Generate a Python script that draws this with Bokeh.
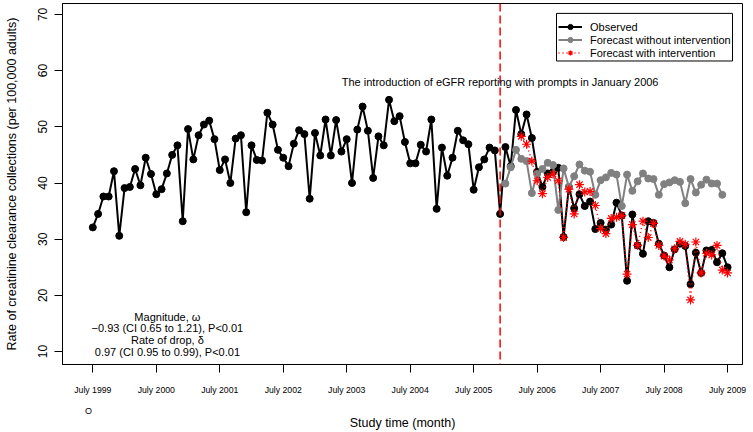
from bokeh.plotting import figure
from bokeh.models import (FixedTicker, Label, Span, Legend, LegendItem, LinearAxis,
                          BoxAnnotation)
from bokeh.embed import file_html
from bokeh.resources import INLINE

# ---------------- data ----------------
# month index 0 = July 1999
obs_months = list(range(0, 121))
observed = [32.1, 34.5, 37.6, 37.6, 42.1, 30.6, 39.1, 39.3, 42.5, 39.6,
            44.5, 41.6, 38.0, 38.9, 41.7, 45.0, 46.7, 33.2, 49.6, 44.2,
            48.5, 50.4, 51.1, 47.8, 42.3, 44.2, 40.0, 47.9, 48.5, 34.8,
            46.7, 44.1, 44.0, 52.5, 50.4, 45.9, 44.5, 43.0, 47.0, 49.4,
            48.7, 37.2, 48.9, 44.9, 51.3, 44.9, 51.2, 45.6, 47.8, 40.0,
            49.5, 53.6, 49.3, 40.9, 48.3, 46.7, 54.8, 51.0, 51.9, 47.3,
            43.5, 43.5, 46.8, 45.6, 51.3, 35.4, 46.3, 41.3, 44.5, 49.3,
            47.6, 46.9, 38.8, 42.8, 44.2, 46.3, 45.8, 34.5, 46.4, 43.0,
            53.0, 48.7, 52.2, 48.0, 42.0, 39.3, 41.7, 42.0, 42.7, 30.4,
            39.3, 35.5, 38.0, 35.9, 36.7, 31.8, 32.9, 31.7, 32.6, 36.5,
            34.2, 22.6, 34.4, 28.9, 27.4, 33.2, 32.9, 29.2, 27.1, 25.0,
            28.2, 29.2, 28.8, 22.0, 27.6, 24.0, 28.0, 28.1, 25.9, 27.5,
            25.0]

nointv_months = list(range(78, 120))
forecast_no_intervention = [39.9, 42.8, 45.9, 44.3, 43.9, 38.2, 41.6, 42.5, 43.6, 43.2,
                            35.2, 42.6, 39.3, 41.2, 43.3, 42.2, 42.0, 37.9, 40.5, 41.0,
                            41.8, 41.5, 35.9, 41.5, 38.6, 40.3, 41.7, 40.8, 40.7, 37.9,
                            39.8, 40.1, 40.5, 40.2, 36.4, 40.7, 38.3, 39.7, 40.6, 39.9,
                            39.9, 37.9]

intv_months = list(range(81, 121))
forecast_with_intervention = [48.3, 46.9, 43.9, 40.4, 38.1, 41.0, 41.6, 40.4, 30.3, 38.9,
                              34.5, 39.7, 38.4, 38.5, 36.0, 31.9, 31.0, 33.7, 33.9, 34.2,
                              23.8, 32.6, 28.9, 33.2, 30.3, 32.8, 28.9, 27.0, 26.3, 28.3,
                              29.6, 29.1, 19.2, 29.5, 24.0, 27.5, 27.2, 28.9, 24.5, 24.0]

intervention_month = 77
x_ticks = [0, 12, 24, 36, 48, 60, 72, 84, 96, 108, 120]
x_tick_labels = ["July 1999", "July 2000", "July 2001", "July 2002", "July 2003",
                 "July 2004", "July 2005", "July 2006", "July 2007", "July 2008",
                 "July 2009"]
y_ticks = [10, 20, 30, 40, 50, 60, 70]
origin_mark_x = -0.8
origin_mark_text = "O"

FONT = "Liberation Sans"

p = figure(width=753, height=432, x_range=(-5.73, 122.82), y_range=(7.706, 71.94),
           output_backend="svg", toolbar_location=None,
           min_border_left=62, min_border_right=11, min_border_top=3,
           min_border_bottom=65)
p.background_fill_color = "white"
p.border_fill_color = "white"
p.outline_line_color = "black"
p.outline_line_width = 1
p.xgrid.visible = False
p.ygrid.visible = False

# x axis (tick labels only)
xa = p.xaxis[0]
xa.ticker = FixedTicker(ticks=x_ticks)
xa.major_label_overrides = {t: l for t, l in zip(x_ticks, x_tick_labels)}
xa.major_tick_out = 8
xa.major_tick_in = 0
xa.minor_tick_out = 0
xa.minor_tick_in = 0
xa.major_label_text_font = FONT
xa.major_label_text_font_size = "8.7px"
xa.major_label_text_color = "black"
xa.major_label_standoff = 12
xa.axis_line_color = "black"
xa.major_tick_line_color = "black"

# second bottom axis: the small "O" mark and the axis title
xb = LinearAxis(ticker=FixedTicker(ticks=[origin_mark_x]),
                major_label_overrides={origin_mark_x: origin_mark_text})
xb.axis_line_color = None
xb.major_tick_line_color = None
xb.minor_tick_line_color = None
xb.major_tick_out = 0
xb.major_tick_in = 0
xb.minor_tick_out = 0
xb.minor_tick_in = 0
xb.major_label_text_font = FONT
xb.major_label_text_font_size = "9px"
xb.major_label_text_color = "black"
xb.major_label_standoff = 8
xb.axis_label = "Study time (month)"
xb.axis_label_text_font = FONT
xb.axis_label_text_font_size = "12.5px"
xb.axis_label_text_font_style = "normal"
xb.axis_label_text_color = "black"
xb.axis_label_standoff = -3
p.add_layout(xb, "below")

# y axis
ya = p.yaxis[0]
ya.ticker = FixedTicker(ticks=y_ticks)
ya.major_tick_out = 8
ya.major_tick_in = 0
ya.minor_tick_out = 0
ya.minor_tick_in = 0
ya.major_label_orientation = "vertical"
ya.major_label_text_font = FONT
ya.major_label_text_font_size = "12px"
ya.major_label_text_color = "black"
ya.major_label_standoff = 7
ya.axis_label = "Rate of creatinine clearance collections (per 100,000 adults)"
ya.axis_label_text_font = FONT
ya.axis_label_text_font_size = "12.5px"
ya.axis_label_text_font_style = "normal"
ya.axis_label_text_color = "black"
ya.axis_label_standoff = 17
ya.axis_line_color = "black"
ya.major_tick_line_color = "black"

# series
obs_line = p.line(obs_months, observed, line_color="black", line_width=2)
obs_pts = p.scatter(obs_months, observed, marker="circle", size=7,
                    fill_color="black", line_color="black")

gray_line = p.line(nointv_months, forecast_no_intervention, line_color="#808080", line_width=2)
gray_pts = p.scatter(nointv_months, forecast_no_intervention, marker="circle", size=7,
                     fill_color="#808080", line_color="#808080")

red_line = p.line(intv_months, forecast_with_intervention, line_color="red",
                  line_width=1.5, line_dash="1 3")
red_pts = p.scatter(intv_months, forecast_with_intervention, marker="asterisk", size=9,
                    line_color="red", line_width=1.2)

p.add_layout(Span(location=intervention_month, dimension="height", line_color="red",
                  line_dash="8 4", line_width=1.5))

# annotations
p.add_layout(Label(x=intervention_month, y=58.05,
                   text="The introduction of eGFR reporting with prompts in January 2006",
                   text_align="center", text_baseline="middle", text_font=FONT,
                   text_font_size="11px", text_color="black"))

stats_lines = ["Magnitude, \u03c9", "\u22120.93 (CI 0.65 to 1.21), P<0.01",
               "Rate of drop, \u03b4", "0.97 (CI 0.95 to 0.99), P<0.01"]
stats_y = [16.13, 14.12, 12.0, 10.0]
for txt, yy in zip(stats_lines, stats_y):
    p.add_layout(Label(x=14.1, y=yy, text=txt, text_align="center",
                       text_baseline="middle", text_font=FONT,
                       text_font_size="11px", text_color="black"))

# legend frame (drawn separately so its size follows the reference)
p.add_layout(BoxAnnotation(left=87.66, right=120.93, top=70.18, bottom=61.71,
                           fill_color="white", fill_alpha=1,
                           line_color="black", line_width=1, line_alpha=1))

legend = Legend(items=[
    LegendItem(label="Observed", renderers=[obs_line, obs_pts]),
    LegendItem(label="Forecast without intervention", renderers=[gray_line, gray_pts]),
    LegendItem(label="Forecast with intervention", renderers=[red_line, red_pts]),
], location=(494, 303))
legend.margin = 0
legend.padding = 2
legend.spacing = 0
legend.glyph_width = 24
legend.glyph_height = 13
legend.label_height = 13
legend.label_standoff = 8
legend.label_text_font = FONT
legend.label_text_font_size = "11px"
legend.label_text_color = "black"
legend.border_line_alpha = 0
legend.background_fill_alpha = 0
p.add_layout(legend)

open("out.html", "w").write(file_html(p, INLINE))
